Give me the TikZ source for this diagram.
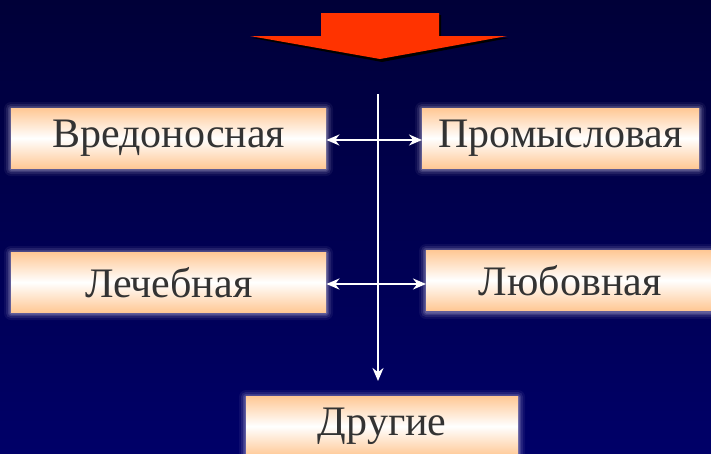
\documentclass[tikz,border=0pt]{standalone}
\usepackage{fontspec}
\setmainfont{Liberation Serif}
\usetikzlibrary{arrows.meta}
\definecolor{peach}{HTML}{FFC895}
\definecolor{txt}{HTML}{333333}
\definecolor{bgtop}{HTML}{000038}
\definecolor{bgbot}{HTML}{000068}
\definecolor{arrowred}{HTML}{FF3300}
\definecolor{glowc}{HTML}{E0D8F0}
\tikzset{
  box/.style={minimum height=60pt, inner sep=0pt, anchor=north west,
    top color=peach, bottom color=peach, middle color=white,
    text=txt, font=\fontsize{42pt}{44pt}\selectfont},
  lbl/.style={text=txt, font=\fontsize{42pt}{44pt}\selectfont},
  conn/.style={draw=white, line width=2.2pt, -{Stealth[length=13pt,width=11pt]}},
  conn2/.style={draw=white, line width=2.2pt, {Stealth[length=13pt,width=11pt]}-{Stealth[length=13pt,width=11pt]}},
}
\newcommand{\glowbox}[5]{% x y w h
  \foreach \g/\o in {7/0.06,5/0.1,3/0.15,1.5/0.22}{
    \fill[glowc, opacity=\o, rounded corners=\g pt] (#1-\g, #2-\g+1) rectangle (#1+#3+\g, #2+#4+\g+1);
  }
  \node[box, minimum width=#3 pt] (#5) at (#1,#2) {};
}
\begin{document}
\begin{tikzpicture}[x=1pt,y=-1pt]
\useasboundingbox (0,0) rectangle (711,453);
\shade[top color=bgtop, bottom color=bgbot] (0,0) rectangle (711,453);
% top arrow
\fill[black] (323,15) -- (441,15) -- (441,38) -- (509,38) -- (382,62) -- (252,38) -- (323,38) -- cycle;
\fill[arrowred] (321,13) -- (439,13) -- (439,36) -- (507,36) -- (380,59) -- (250,36) -- (321,36) -- cycle;
% boxes
\glowbox{11}{108}{315}{60}{b1}
\glowbox{422}{108}{277}{60}{b2}
\glowbox{11}{252}{315}{60}{b3}
\glowbox{426}{250}{290}{61}{b4}
\glowbox{246}{396}{272}{60}{b5}
\node[lbl] at (b1.center) {Вредоносная};
\node[lbl] at (b2.center) {Промысловая};
\node[lbl] at (b3.center) {Лечебная};
\node[lbl] at ([xshift=-1pt]b4.center) {Любовная};
\node[lbl] at (b5.center) {Другие};
% connectors
\coordinate (vtop) at (378,94);
\coordinate (vbot) at (378,381);
\draw[conn] (vtop) -- (vbot);
\draw[conn2] (b1.east |- 0,140) -- (b2.west |- 0,140);
\draw[conn2] (b3.east |- 0,284) -- (b4.west |- 0,284);
\end{tikzpicture}
\end{document}
